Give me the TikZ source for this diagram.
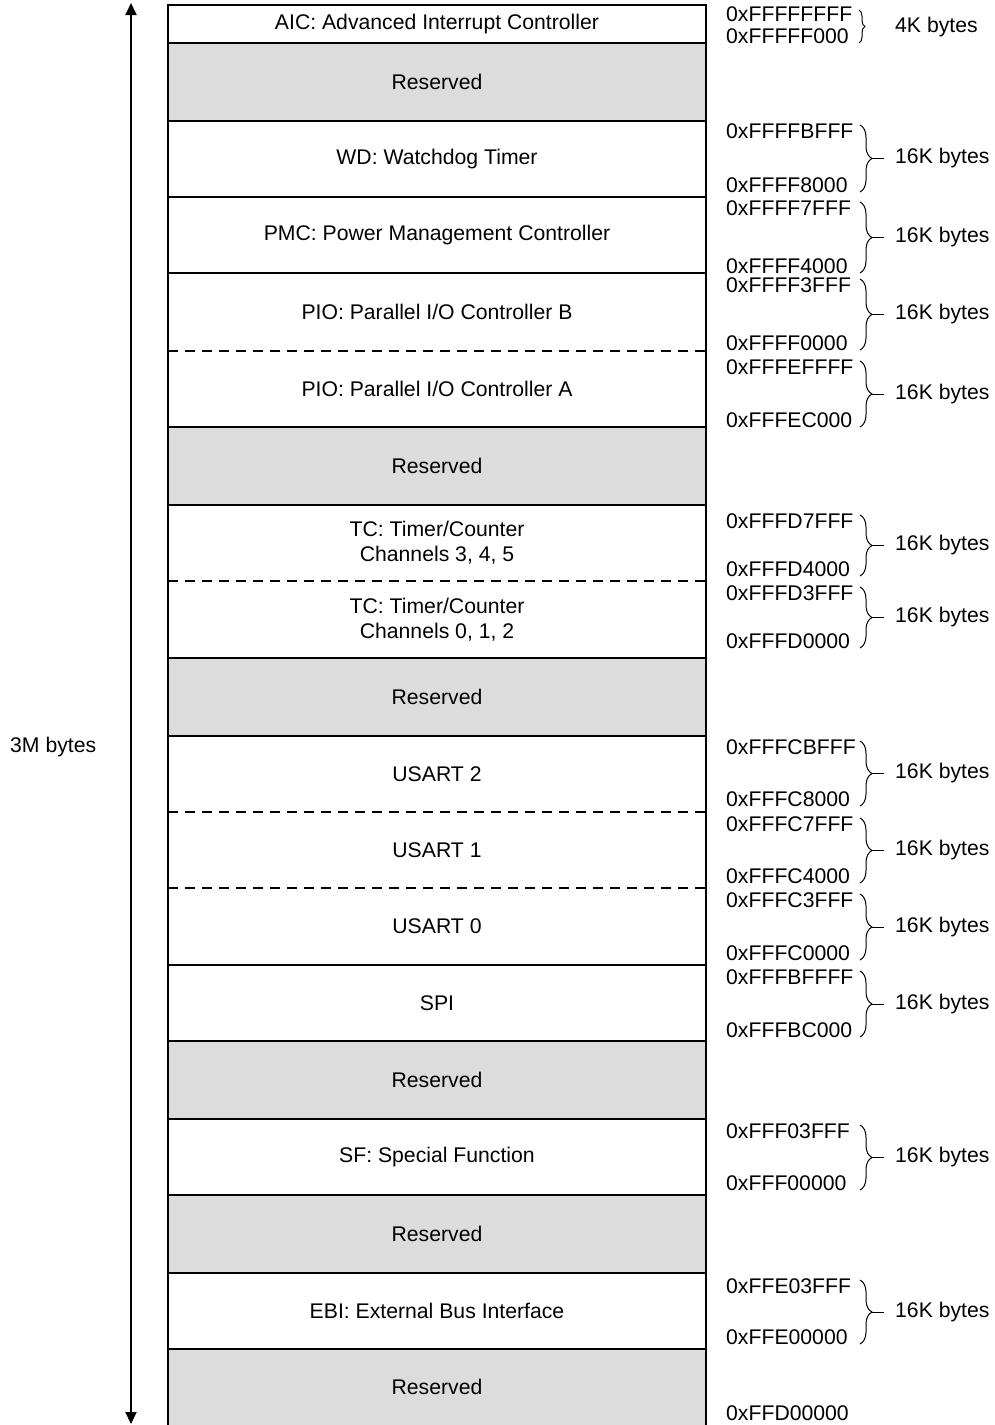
\documentclass[tikz,border=0pt]{standalone}
\usepackage{fontspec}
\setmainfont{Liberation Sans}
\usetikzlibrary{decorations.pathreplacing,arrows.meta}
\definecolor{resgray}{RGB}{220,220,220}
\tikzset{
  cell/.style={anchor=north west,inner sep=0pt,minimum width=538pt,align=center,outer sep=0pt},
  res/.style={cell,fill=resgray},
  solidsep/.style={line width=2pt},
  dashsep/.style={line width=2pt,dash pattern=on 10pt off 7pt},
  addr/.style={anchor=west,inner sep=0pt},
  sizelbl/.style={anchor=west,inner sep=0pt},
  bracestyle/.style={line width=1pt,decorate,decoration={brace,amplitude=12pt}},
  smallbrace/.style={line width=1pt,decorate,decoration={brace,amplitude=6pt}},
}
\begin{document}
\begin{tikzpicture}[x=1pt,y=-1pt,font=\fontsize{21.2}{25}\selectfont]
\useasboundingbox (0,0) rectangle (995,1425);
% rows
\node[cell,minimum height=38pt] (aic) at (168,5) {AIC: Advanced Interrupt Controller};
\node[res,minimum height=78pt] (r1) at (168,43) {Reserved};
\node[cell,minimum height=76pt] (wd) at (168,121) {WD: Watchdog Timer};
\node[cell,minimum height=76pt] (pmc) at (168,197) {PMC: Power Management Controller};
\node[cell,minimum height=78pt] (piob) at (168,273) {PIO: Parallel I/O Controller B};
\node[cell,minimum height=76pt] (pioa) at (168,351) {PIO: Parallel I/O Controller A};
\node[res,minimum height=78pt] (r2) at (168,427) {Reserved};
\node[cell,minimum height=76pt] (tcb) at (168,505) {TC: Timer/Counter\\Channels 3, 4, 5};
\node[cell,minimum height=77pt] (tca) at (168,581) {TC: Timer/Counter\\Channels 0, 1, 2};
\node[res,minimum height=78pt] (r3) at (168,658) {Reserved};
\node[cell,minimum height=76pt] (us2) at (168,736) {USART 2};
\node[cell,minimum height=76pt] (us1) at (168,812) {USART 1};
\node[cell,minimum height=77pt] (us0) at (168,888) {USART 0};
\node[cell,minimum height=76pt] (spi) at (168,965) {SPI};
\node[res,minimum height=78pt] (r4) at (168,1041) {Reserved};
\node[cell,minimum height=76pt] (sf) at (168,1119) {SF: Special Function};
\node[res,minimum height=78pt] (r5) at (168,1195) {Reserved};
\node[cell,minimum height=76pt] (ebi) at (168,1273) {EBI: External Bus Interface};
\node[res,minimum height=76pt] (r6) at (168,1349) {Reserved};
% separators
\foreach \n in {aic,r1,wd,pmc,pioa,r2,tca,r3,us0,spi,r4,sf,r5,ebi}
  \draw[solidsep] (\n.south west) -- (\n.south east);
\foreach \n in {piob,tcb,us2,us1}
  \draw[dashsep] (\n.south west) -- (\n.south east);
\draw[solidsep] (r6.south west) -- (aic.north west) -- (aic.north east) -- (r6.south east);
% 3M arrow
\coordinate (atop) at (131,3);
\coordinate (abot) at (131,1424);
\draw[line width=2pt,{Triangle[length=12pt,width=11pt]}-{Triangle[length=12pt,width=11pt]}] (atop) -- (abot);
\node[anchor=west,inner sep=0pt] (tot) at (10,747) {3M bytes};
% addresses
\foreach \a/\y in {0xFFFFFFFF/14,0xFFFFF000/36,0xFFFFBFFF/131,0xFFFF8000/185,0xFFFF7FFF/208,0xFFFF4000/266,0xFFFF3FFF/285,0xFFFF0000/343,0xFFFEFFFF/367,0xFFFEC000/420,0xFFFD7FFF/521,0xFFFD4000/569,0xFFFD3FFF/593,0xFFFD0000/641,0xFFFCBFFF/747,0xFFFC8000/799,0xFFFC7FFF/824,0xFFFC4000/876,0xFFFC3FFF/900,0xFFFC0000/953,0xFFFBFFFF/977,0xFFFBC000/1030,0xFFF03FFF/1131,0xFFF00000/1183,0xFFE03FFF/1286,0xFFE00000/1337,0xFFD00000/1413}
  \node[addr] at (726,\y) {\a};
% small brace 4K
\draw[smallbrace] (859,10) -- (859,43);
\node[sizelbl] (k4) at (895,27) {4K bytes};
% 16K braces
\foreach \t/\b in {131/185,208/266,285/343,367/420,521/569,593/641,747/799,824/876,900/953,977/1030,1131/1183,1286/1337}{
  \draw[bracestyle] (860,\t-6) -- (860,\b+7);
  \draw[line width=1pt] (871,{(\t+\b)/2+0.5}) -- (884,{(\t+\b)/2+0.5});
  \node[sizelbl] at (895,{(\t+\b)/2+0.5}) {16K bytes};
}
\end{tikzpicture}
\end{document}
